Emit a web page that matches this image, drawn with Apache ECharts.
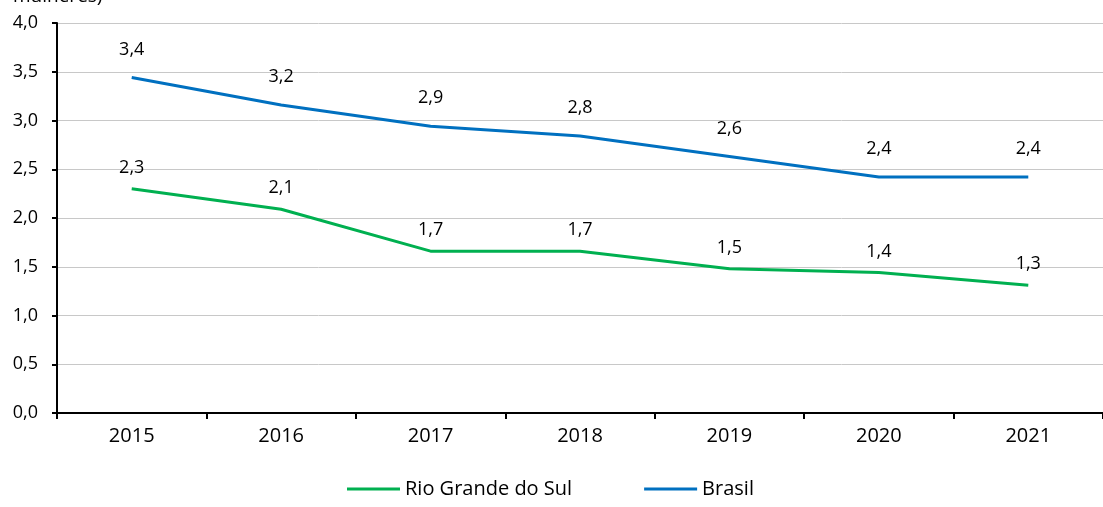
<!DOCTYPE html>
<html>
<head>
<meta charset="utf-8">
<script src="https://cdn.jsdelivr.net/npm/echarts@6/dist/echarts.min.js"></script>
<style>
    html, body { margin: 0; padding: 0; background: #fff; }
    #chart { width: 1103px; height: 507px; }
</style>
</head>
<body>
<div id="chart"></div>
<script>
    "use strict";
    var years = ["2015", "2016", "2017", "2018", "2019", "2020", "2021"];
    var rioGrandeDoSul = [2.30, 2.09, 1.66, 1.66, 1.48, 1.44, 1.31];
    var brasil = [3.44, 3.16, 2.94, 2.84, 2.63, 2.42, 2.42];
    var yTicks = [0, 0.5, 1, 1.5, 2, 2.5, 3, 3.5, 4];

    var fontFamily = "'Open Sans', 'Noto Sans', sans-serif";
    var comma = function (v, d) {
        return Number(v).toFixed(d).replace(".", ",");
    };

    var chart = echarts.init(document.getElementById("chart"));
    chart.setOption({
        animation: false,
        textStyle: { fontFamily: fontFamily },
        graphic: [{
            type: "text",
            left: 13,
            top: -13,
            style: { text: "mulheres)", fontSize: 19, fill: "#000", fontFamily: fontFamily }
        }],
        grid: { left: 57, right: -8, top: 23, bottom: 94 },
        legend: {
            bottom: 3,
            left: 342,
            itemWidth: 53,
            itemHeight: 3,
            itemGap: 72,
            icon: "rect",
            textStyle: { fontSize: 20, color: "#000", fontFamily: fontFamily },
            data: ["Rio Grande do Sul", "Brasil"]
        },
        xAxis: {
            type: "category",
            data: years,
            boundaryGap: true,
            axisLine: { lineStyle: { color: "#000", width: 2 } },
            axisTick: { show: true, length: 6, lineStyle: { color: "#000", width: 2 } },
            axisLabel: { fontSize: 20, color: "#000", margin: 13 }
        },
        yAxis: {
            type: "value",
            min: yTicks[0],
            max: yTicks[yTicks.length - 1],
            interval: 0.5,
            axisLine: { show: true, lineStyle: { color: "#000", width: 2 } },
            axisTick: { show: true, inside: false, length: 5, lineStyle: { color: "#000", width: 2 } },
            splitLine: { lineStyle: { color: "#c8c8c8", width: 1 } },
            axisLabel: {
                fontSize: 18,
                color: "#000",
                margin: 19,
                formatter: function (v) { return comma(v, 1); }
            }
        },
        series: [{
            name: "Rio Grande do Sul",
            type: "line",
            data: rioGrandeDoSul,
            symbol: "circle",
            symbolSize: 0,
            showSymbol: true,
            color: "#00b050",
            lineStyle: { width: 3, color: "#00b050" },
            label: {
                show: true,
                position: "top",
                distance: 12,
                fontSize: 18,
                color: "#000",
                formatter: function (p) { return comma(p.value, 1); }
            }
        }, {
            name: "Brasil",
            type: "line",
            data: brasil,
            symbol: "circle",
            symbolSize: 0,
            showSymbol: true,
            color: "#0070c0",
            lineStyle: { width: 3, color: "#0070c0" },
            label: {
                show: true,
                position: "top",
                distance: 19,
                fontSize: 18,
                color: "#000",
                formatter: function (p) { return comma(p.value, 1); }
            }
        }]
    });
</script>
</body>
</html>
